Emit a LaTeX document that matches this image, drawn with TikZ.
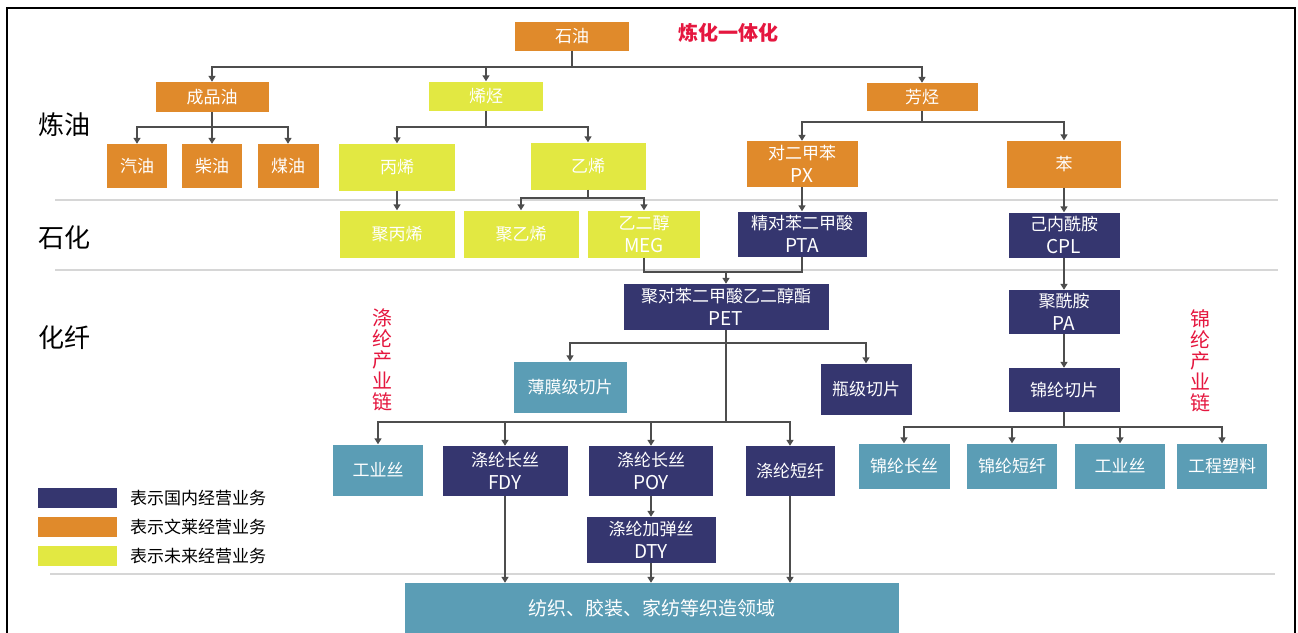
\documentclass[tikz,border=0pt]{standalone}
\usepackage{fontspec}
\setmainfont{Noto Sans CJK SC}
\usetikzlibrary{arrows.meta}
\definecolor{cOr}{HTML}{E08A2B}
\definecolor{cYe}{HTML}{E2E842}
\definecolor{cNv}{HTML}{35366F}
\definecolor{cTl}{HTML}{5B9DB5}
\definecolor{cRd}{HTML}{E5173F}
\definecolor{cLn}{HTML}{4D4D4D}
\definecolor{cSep}{HTML}{D6D6D6}
\newcommand{\lat}[1]{{\fontsize{19}{22}\selectfont #1}}
\tikzset{
  bx/.style 2 args={rectangle, inner sep=0pt, text=white, align=center,
    minimum width=#1, minimum height=#2, font=\fontsize{17}{23}\selectfont},
  orb/.style={fill=cOr},
  yeb/.style={fill=cYe},
  nvb/.style={fill=cNv},
  tlb/.style={fill=cTl},
  ln/.style={draw=cLn, line width=1.5pt},
  ar/.style={ln, -{Triangle[width=7pt,length=6pt]}},
  sep/.style={draw=cSep, line width=2pt},
  sect/.style={font=\fontsize{26}{30}\selectfont, text=black},
  redv/.style={text=cRd, align=center, font=\fontsize{20}{21}\selectfont},
  legbox/.style={rectangle, inner sep=0pt, minimum width=79pt, minimum height=20pt},
  legtxt/.style={anchor=west, inner sep=0pt, font=\fontsize{17}{20}\selectfont, text=black}
}
\begin{document}
\begin{tikzpicture}[x=1pt,y=-1pt]
\useasboundingbox (0,0) rectangle (1298,632);
\fill[white] (0,0) rectangle (1298,632);
% frame
\draw[black, line width=1.6pt] (7,640) -- (7,8) -- (1295,8) -- (1295,640);
% separators
\draw[sep] (55,200) -- (1278,200);
\draw[sep] (55,270) -- (1278,270);
\draw[sep] (50,574) -- (1275,574);

% section labels
\node[sect] (s1) at (64,125) {炼油};
\node[sect] (s2) at (64,238) {石化};
\node[sect] (s3) at (64,338) {化纤};
\node[text=cRd, font=\fontsize{20}{24}\selectfont\bfseries] (title) at (728,33) {炼化一体化};
\node[redv] (dl) at (382,360) {涤\\纶\\产\\业\\链};
\node[redv] (jl) at (1200,361) {锦\\纶\\产\\业\\链};

% nodes
\node[bx={114pt}{29pt}, orb] (oil) at (572,36) {石油};
\node[bx={113pt}{30pt}, orb] (cp) at (212,97) {成品油};
\node[bx={114pt}{29pt}, yeb] (xt) at (486,96) {烯烃};
\node[bx={111pt}{28pt}, orb] (ft) at (922,97) {芳烃};
\node[bx={60pt}{44pt}, orb] (qy) at (137,166) {汽油};
\node[bx={60pt}{44pt}, orb] (cy) at (212,166) {柴油};
\node[bx={61pt}{44pt}, orb] (my) at (288,166) {煤油};
\node[bx={116pt}{47pt}, yeb] (bx) at (397,167) {丙烯};
\node[bx={115pt}{47pt}, yeb] (yx) at (588,166) {乙烯};
\node[bx={111pt}{46pt}, orb] (px) at (802,164) {对二甲苯\\\lat{PX}};
\node[bx={114pt}{47pt}, orb] (ben) at (1064,164) {苯};
\node[bx={115pt}{47pt}, yeb] (jbx) at (397,234) {聚丙烯};
\node[bx={115pt}{47pt}, yeb] (jyx) at (521,234) {聚乙烯};
\node[bx={112pt}{47pt}, yeb] (meg) at (644,234) {乙二醇\\\lat{MEG}};
\node[bx={129pt}{45pt}, nvb] (pta) at (802,234) {精对苯二甲酸\\\lat{PTA}};
\node[bx={111pt}{45pt}, nvb] (cpl) at (1064,235) {己内酰胺\\\lat{CPL}};
\node[bx={205pt}{46pt}, nvb] (pet) at (726,307) {聚对苯二甲酸乙二醇酯\\\lat{PET}};
\node[bx={111pt}{44pt}, nvb] (pa) at (1064,312) {聚酰胺\\\lat{PA}};
\node[bx={111pt}{44pt}, nvb] (jlqp) at (1064,390) {锦纶切片};
\node[bx={113pt}{51pt}, tlb] (bmqp) at (570,387) {薄膜级切片};
\node[bx={91pt}{51pt}, nvb] (ppqp) at (866,389) {瓶级切片};
\node[bx={90pt}{51pt}, tlb] (gys) at (378,470) {工业丝};
\node[bx={125pt}{50pt}, nvb] (fdy) at (505,471) {涤纶长丝\\\lat{FDY}};
\node[bx={124pt}{50pt}, nvb] (poy) at (651,471) {涤纶长丝\\\lat{POY}};
\node[bx={89pt}{50pt}, nvb] (dxq) at (790,471) {涤纶短纤};
\node[bx={129pt}{46pt}, nvb] (dty) at (651,540) {涤纶加弹丝\\\lat{DTY}};
\node[bx={494pt}{50pt}, tlb, font=\fontsize{19}{22}\selectfont] (fz) at (652,608) {纺织、胶装、家纺等织造领域};
\node[bx={91pt}{45pt}, tlb] (jlcs) at (904,466) {锦纶长丝};
\node[bx={90pt}{45pt}, tlb] (jldx) at (1012,466) {锦纶短纤};
\node[bx={90pt}{45pt}, tlb] (gys2) at (1120,466) {工业丝};
\node[bx={90pt}{45pt}, tlb] (gcsl) at (1222,466) {工程塑料};

% legend
\node[legbox, fill=cNv] (lg1) at (77.5,498) {};
\node[legbox, fill=cOr] (lg2) at (77.5,527) {};
\node[legbox, fill=cYe] (lg3) at (77.5,556) {};
\node[legtxt] (lt1) at (130,498) {表示国内经营业务};
\node[legtxt] (lt2) at (130,527) {表示文莱经营业务};
\node[legtxt] (lt3) at (130,556) {表示未来经营业务};

% connectors
\coordinate (b1) at (572,67);
\draw[ln] (oil.south) -- (b1);
\draw[ar] (b1) -| (cp.north);
\draw[ar] (b1) -| (xt.north);
\draw[ar] (b1) -| (ft.north);

\coordinate (b2) at (212,127);
\draw[ln] (cp.south) -- (b2);
\draw[ar] (b2) -| (qy.north);
\draw[ar] (b2) -- (cy.north);
\draw[ar] (b2) -| (my.north);

\coordinate (b3) at (486,127);
\draw[ln] (xt.south) -- (b3);
\draw[ar] (b3) -| (bx.north);
\draw[ar] (b3) -| (yx.north);

\coordinate (b4) at (922,122);
\draw[ln] (ft.south) -- (b4);
\draw[ar] (b4) -| (px.north);
\draw[ar] (b4) -| (ben.north);

\draw[ar] (bx.south) -- (jbx.north);
\coordinate (b5) at (588,198);
\draw[ln] (yx.south) -- (b5);
\draw[ar] (b5) -| (jyx.north);
\draw[ar] (b5) -| (meg.north);
\draw[ar] (px.south) -- (pta.north);
\draw[ar] (ben.south) -- (cpl.north);

\coordinate (b6) at (726,272);
\draw[ln] (meg.south) |- (b6);
\draw[ln] (pta.south) |- (b6);
\draw[ar] (b6) -- (pet.north);

\draw[ar] (cpl.south) -- (pa.north);
\draw[ar] (pa.south) -- (jlqp.north);

\coordinate (b7) at (726,343);
\coordinate (b8) at (726,422);
\draw[ln] (pet.south) -- (b8);
\draw[ar] (b7) -| (bmqp.north);
\draw[ar] (b7) -| (ppqp.north);
\draw[ar] (b8) -| (gys.north);
\draw[ar] (b8) -| (fdy.north);
\draw[ar] (b8) -| (poy.north);
\draw[ar] (b8) -| (dxq.north);

\draw[ar] (poy.south) -- (dty.north);
\draw[ar] (fdy.south) -- (fdy.south |- fz.north);
\draw[ar] (dty.south) -- (dty.south |- fz.north);
\draw[ar] (dxq.south) -- (dxq.south |- fz.north);

\coordinate (b9) at (1064,427);
\draw[ln] (jlqp.south) -- (b9);
\draw[ar] (b9) -| (jlcs.north);
\draw[ar] (b9) -| (jldx.north);
\draw[ar] (b9) -| (gys2.north);
\draw[ar] (b9) -| (gcsl.north);
\end{tikzpicture}
\end{document}
